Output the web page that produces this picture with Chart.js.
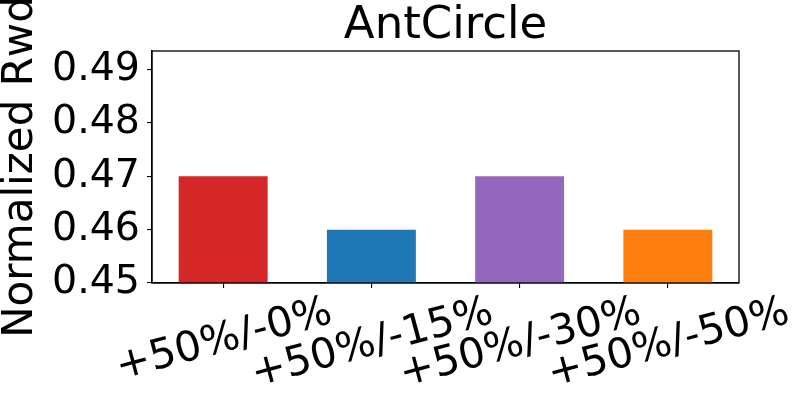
<!DOCTYPE html>
<html>
<head>
<meta charset="utf-8">
<script src="https://cdn.jsdelivr.net/npm/chart.js@4"></script>
<style>
  html, body { margin: 0; padding: 0; background: #fff; }
  #wrap { width: 800px; height: 400px; }
</style>
</head>
<body>
<div id="wrap"><canvas id="c" width="800" height="400"></canvas></div>
<script>
const categories = ['+50%/-0%', '+50%/-15%', '+50%/-30%', '+50%/-50%'];
const values = [0.47, 0.46, 0.47, 0.46];
const barColors = ['#d62728', '#1f77b4', '#9467bd', '#ff7f0e'];
const yTickValues = [0.45, 0.46, 0.47, 0.48, 0.49];
const chartTitle = 'AntCircle';
const yAxisTitle = 'Normalized Rwd';
const yMin = 0.45, yMax = 0.4935;

const FONT = 'DejaVu Sans';
const TICK_SIZE = 39.5;
const XLABEL_SIZE = 41.5;

const framePlugin = {
  id: 'frame',
  afterDatasetsDraw(chart) {
    const {ctx, chartArea: a} = chart;
    ctx.save();
    ctx.strokeStyle = '#000';
    ctx.lineWidth = 1.3;
    ctx.strokeRect(a.left, a.top, a.right - a.left, a.bottom - a.top);
    ctx.restore();
  }
};

const xLabelPlugin = {
  id: 'xlabels',
  afterDraw(chart) {
    const {ctx, chartArea: a} = chart;
    const xs = chart.scales.x;
    const f = XLABEL_SIZE;
    const ang = 15 * Math.PI / 180;
    ctx.save();
    ctx.font = f + 'px "' + FONT + '"';
    ctx.fillStyle = '#000';
    ctx.textAlign = 'center';
    ctx.textBaseline = 'alphabetic';
    categories.forEach((lab, i) => {
      const px = xs.getPixelForValue(i);
      const w = ctx.measureText(lab).width;
      const H = 1.164 * f;
      const bh = w * Math.sin(ang) + H * Math.cos(ang);
      const top = a.bottom + 2;
      const cy = top + bh / 2;
      ctx.save();
      ctx.translate(px, cy);
      ctx.rotate(-ang);
      ctx.fillText(lab, 0, 0.346 * f);
      ctx.restore();
    });
    ctx.restore();
  }
};

new Chart(document.getElementById('c'), {
  type: 'bar',
  data: {
    datasets: [{
      data: categories.map((c, i) => ({x: i, y: values[i]})),
      backgroundColor: barColors,
      borderWidth: 0,
      barPercentage: 0.6,
      categoryPercentage: 1.0
    }]
  },
  options: {
    responsive: false,
    animation: false,
    devicePixelRatio: 1,
    layout: { padding: { left: 0, right: 61, top: 0, bottom: 0 } },
    plugins: {
      legend: { display: false },
      tooltip: { enabled: false },
      title: {
        display: true,
        text: chartTitle,
        fullSize: false,
        color: '#000',
        font: { family: FONT, size: 45, weight: 'normal', lineHeight: 1 },
        padding: { top: 4, bottom: 2 }
      }
    },
    scales: {
      x: {
        type: 'linear',
        min: -0.48,
        max: 3.48,
        offset: false,
        afterFit(s) { s.height = 117; },
        afterBuildTicks(s) { s.ticks = categories.map((c, i) => ({value: i})); },
        ticks: { display: false },
        grid: { offset: false, drawOnChartArea: false, drawTicks: true, tickLength: 5, color: '#000', lineWidth: 1.1 },
        border: { display: true, color: '#000', width: 1.3 }
      },
      y: {
        min: yMin,
        max: yMax,
        afterFit(s) { s.width = 152; },
        afterBuildTicks(s) { s.ticks = yTickValues.map(v => ({value: v})); },
        ticks: {
          color: '#000',
          padding: 7,
          font: { family: FONT, size: TICK_SIZE },
          callback: v => Number(v).toFixed(2)
        },
        grid: { drawOnChartArea: false, drawTicks: true, tickLength: 5, color: '#000', lineWidth: 1.1 },
        border: { display: true, color: '#000', width: 1.3 },
        title: {
          display: true,
          text: yAxisTitle,
          color: '#000',
          font: { family: FONT, size: 42, lineHeight: 1 },
          padding: { top: 0, bottom: 0 }
        }
      }
    }
  },
  plugins: [framePlugin, xLabelPlugin]
});
</script>
</body>
</html>
